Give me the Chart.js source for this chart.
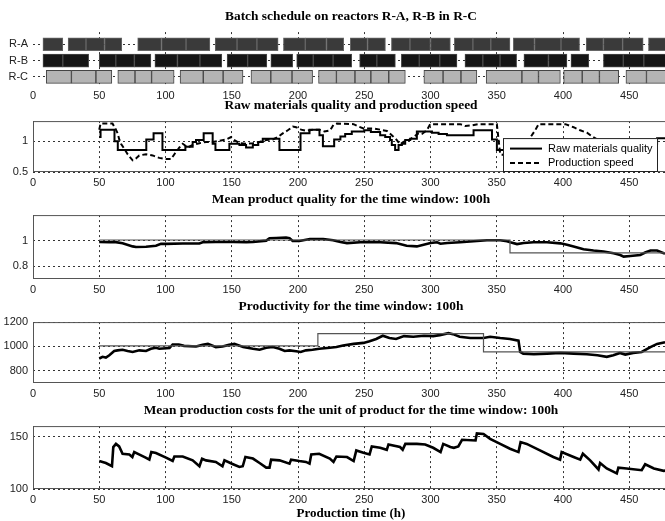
<!DOCTYPE html>
<html>
<head>
<meta charset="utf-8">
<script src="https://cdn.jsdelivr.net/npm/chart.js@4.4.0/dist/chart.umd.min.js"></script>
<style>
  html, body { margin: 0; padding: 0; background: #fff; overflow: hidden; }
  body { width: 665px; height: 521px; position: relative; }
  canvas { position: absolute; left: 0; }
</style>
</head>
<body>
<canvas id="gantt" width="669" height="96" style="top:9px"></canvas>
<canvas id="raw" width="669" height="94" style="top:98px"></canvas>
<canvas id="quality" width="669" height="107" style="top:192px"></canvas>
<canvas id="productivity" width="669" height="104" style="top:299px"></canvas>
<canvas id="costs" width="669" height="118" style="top:403px"></canvas>
<script>
// reactors and batches (start, end in h)
const reactors = ["R-A", "R-B", "R-C"];
const batchesA = [[7.5, 22.5], [26.5, 40], [40, 54], [54, 67], [79, 97], [97, 115.5], [115.5, 133.5],
  [137.5, 154], [154, 169], [169, 185], [189, 205.5], [205.5, 221.5], [221.5, 234.5], [239.5, 252.5],
  [252.5, 266], [270.5, 284.5], [284.5, 300], [300, 315], [318, 332], [332, 345.5], [345.5, 360],
  [362.5, 378.5], [378.5, 398.5], [398.5, 412.5], [417.5, 430.5], [430.5, 445], [445, 460.5], [464.5, 484]];
const batchesB = [[7.5, 22.5], [22.5, 42], [50, 62.5], [62.5, 76.5], [76.5, 89], [92, 109], [109, 126],
  [126, 142.5], [146.5, 162], [162, 176.5], [179.5, 196], [199, 211.5], [211.5, 226.5], [226.5, 240.5],
  [246.5, 259.5], [259.5, 273.5], [278, 291.5], [291.5, 307], [307, 320], [326, 339.5], [339.5, 352.5],
  [352.5, 365], [370.5, 389], [389, 403], [406, 419.5], [430.5, 445.5], [445.5, 461], [461, 484]];
const batchesC = [[10, 29], [29, 47.5], [47.5, 59.5], [64, 77], [77, 89.5], [89.5, 106.5], [111, 128.5],
  [128.5, 143.5], [143.5, 158.5], [164.5, 179.5], [179.5, 195.5], [195.5, 211], [215.5, 229], [229, 243],
  [243, 255], [255, 268.5], [268.5, 281], [295, 309.5], [309.5, 323], [323, 335], [342, 369], [369, 381.5],
  [381.5, 398], [400.5, 414.5], [414.5, 427.5], [427.5, 442], [447.5, 463], [463, 484]];

// [time, value]
const rawQuality = [[50, 1.07], [51, 1.19], [61.5, 1.0], [64, 0.86], [85.5, 1.03], [91, 1.13], [97.7, 0.86],
  [115, 0.91], [120.5, 0.99], [123, 1.02], [128.8, 1.13], [135.6, 0.96], [137.7, 0.86], [148.2, 0.96],
  [155.8, 0.94], [160.8, 0.9], [165.9, 0.94], [170, 0.99], [173.4, 1.04], [186, 0.86], [201.9, 1.13],
  [208.7, 1.19], [216.2, 1.1], [218.8, 0.92], [227.3, 1.03], [232, 1.08], [235.6, 1.12], [240.6, 1.16],
  [250, 1.18], [255, 1.15], [262, 1.1], [265.8, 1.07], [269.5, 1.02], [270.8, 0.94], [273.3, 0.86],
  [275.9, 0.94], [278.4, 0.96], [280.9, 1.02], [284.7, 1.04], [289.7, 1.16], [301.1, 1.14], [306.1, 1.12],
  [312.4, 1.1], [332.5, 1.18], [346.4, 1.03], [350.1, 0.86], [365, 0.9], [380, 0.85], [395, 0.88],
  [410, 0.84], [425, 0.86], [440, 0.83], [455, 0.87], [466, 0.96], [471, 1.05], [480, 1.05]];
const productionSpeed = [[50, 1.19], [51, 1.29], [60, 1.29], [62.6, 1.19], [63.9, 1.13], [65.1, 1.03],
  [66.4, 0.96], [68.9, 0.88], [71.4, 0.79], [75.2, 0.69], [77.7, 0.72], [80.2, 0.77], [85.3, 0.79],
  [90.3, 0.77], [95.3, 0.73], [100.4, 0.71], [104.2, 0.71], [106.7, 0.79], [110.5, 0.9], [113, 0.96],
  [116.8, 0.9], [120.5, 0.94], [125.6, 0.97], [130.6, 0.99], [135.6, 0.99], [140.7, 1.01], [145.7, 1.03],
  [149.5, 1.07], [152, 1.02], [155.8, 0.97], [160.8, 0.96], [165.9, 0.97], [170.9, 0.99], [175.9, 1.02],
  [181, 1.03], [184.8, 1.07], [188.5, 1.13], [192.3, 1.18], [196.1, 1.24], [198.6, 1.23], [202.4, 1.19],
  [206.2, 1.17], [211.2, 1.19], [216.2, 1.19], [220, 1.16], [224.3, 1.18], [226.8, 1.27], [229.3, 1.29],
  [241.9, 1.28], [245.7, 1.24], [249.4, 1.21], [257, 1.21], [262, 1.19], [267.1, 1.17], [270.8, 1.1],
  [274.6, 1.02], [277.1, 0.95], [279.6, 0.99], [283.4, 1.02], [287.2, 1.07], [290.9, 1.13], [293.5, 1.12],
  [297.2, 1.18], [299.8, 1.28], [322.4, 1.28], [326.2, 1.25], [331.3, 1.26], [336.3, 1.28], [350.1, 1.28],
  [351.3, 1.04], [352.6, 0.79], [362, 0.74], [370, 0.86], [375.3, 1.06], [379, 1.18], [381.6, 1.28],
  [401.8, 1.28], [408, 1.23], [413, 1.18], [418.1, 1.14], [421.9, 1.08], [430, 0.98], [445, 0.93], [460, 0.9]];

const qualityTarget = [[50, 1.005], [360, 0.905], [480, 0.905]];
const qualityMean = [[50, 0.99], [57.6, 0.987], [61.3, 0.99], [67.6, 0.98], [75.2, 0.955], [77.7, 0.95],
  [85.3, 0.952], [92.8, 0.96], [96.6, 0.975], [100.4, 0.975], [113, 0.978], [125.6, 0.978], [128, 0.987],
  [138, 0.99], [151, 0.99], [161, 0.987], [166, 0.99], [176, 1.0], [178.5, 1.019], [183.5, 1.021],
  [191, 1.025], [193.6, 1.02], [196, 0.997], [201, 0.997], [209, 1.013], [219, 1.013], [226.5, 1.003],
  [232, 0.99], [237, 0.981], [247, 0.987], [254, 0.989], [262, 0.987], [274, 0.981], [282, 0.96],
  [289.7, 0.955], [294.8, 0.968], [300, 0.981], [305, 0.987], [307.5, 0.976], [312.6, 0.981],
  [322.4, 0.987], [332.5, 0.995], [342.6, 1.003], [352.6, 1.003], [357.7, 0.995], [360.2, 0.987],
  [365.3, 0.973], [370.3, 0.981], [377.8, 0.987], [387.9, 0.987], [398, 0.979], [403, 0.968], [408, 0.955],
  [415.5, 0.933], [423, 0.923], [430.6, 0.915], [438.2, 0.901], [443.2, 0.888], [445.8, 0.875],
  [450.8, 0.88], [458.3, 0.888], [462, 0.907], [466, 0.923], [471, 0.923], [476, 0.901], [480, 0.9]];

const productivityTarget = [[50, 1005], [215, 1105], [340, 955], [480, 955]];
const productivityMean = [[50, 901], [52.5, 915], [55, 909], [57.6, 928], [61.3, 963], [63.8, 968],
  [67.6, 973], [71.4, 963], [75.2, 955], [80.2, 968], [85.3, 963], [89, 981], [92.8, 989], [95.3, 981],
  [103, 987], [105.4, 1016], [110, 1016], [114, 1005], [123, 1000], [128, 1013], [132, 1021], [138, 995],
  [143, 1000], [148, 1013], [152, 1021], [158.6, 995], [166, 981], [171, 973], [176, 989], [181, 995],
  [186, 981], [190, 963], [193.6, 968], [198.6, 960], [202, 955], [206, 968], [211, 973], [216, 981],
  [224, 989], [229, 995], [234, 1008], [242, 1021], [249.4, 1029], [254, 1043], [259, 1061], [264, 1088],
  [269, 1069], [274, 1061], [280, 1085], [287, 1080], [295, 1088], [302, 1085], [307, 1093], [313.6, 1109],
  [317, 1101], [322, 1080], [330, 1069], [340, 1069], [345, 1080], [352.6, 1069], [360, 1061],
  [366.4, 1048], [367.7, 955], [370, 941], [378, 936], [388, 941], [398, 947], [408, 941], [418, 936],
  [426, 928], [433, 915], [438, 928], [443, 947], [447, 933], [453, 947], [459.4, 955], [466, 995],
  [471, 1021], [477, 1035]];

const productionCosts = [[50, 126.7], [52.5, 125.8], [55, 124.8], [59.6, 121.7], [60.6, 140], [62.6, 143],
  [65, 140.6], [67.6, 133.6], [72.7, 133], [75, 130.5], [76.4, 135.2], [80, 133], [85, 129.9], [87.8, 128],
  [89.3, 135.2], [92.8, 134.3], [100.4, 129.9], [105.4, 126.7], [106.7, 131], [113, 131], [120.5, 127.3],
  [125.6, 121.7], [127.6, 128.9], [130.6, 127.3], [138, 125.8], [143, 121.7], [144.5, 127.3], [151, 123.6],
  [155.8, 121], [158.3, 121.7], [160.3, 130.5], [166, 129], [171, 124.8], [176, 120.4], [178.5, 120.4],
  [179.7, 128], [186, 127.3], [193.6, 124.2], [194.8, 128], [201, 126.7], [206, 125.8], [208.7, 124.2],
  [210, 133], [216, 133.6], [224, 129], [226.8, 125.8], [229, 131], [237, 130.5], [242, 126.7],
  [244, 136.8], [249.4, 134.6], [254, 133], [255.7, 140.6], [262, 139.3], [267, 137.4], [268.3, 142.5],
  [277, 140], [279, 137.4], [281, 143], [289.7, 143], [296, 142.5], [302, 139.3], [307.6, 135.2],
  [309.6, 143], [315, 140], [317.6, 139.3], [321, 140.6], [323.8, 146.9], [334, 146.3], [335, 153],
  [340, 152.5], [345, 147.8], [352.6, 143], [360, 138.4], [366.4, 135.2], [368, 144.7], [372.6, 143],
  [382.6, 136.8], [392.7, 130.5], [397.8, 128], [399, 135.2], [408, 130.5], [413, 128], [415, 133.6],
  [420.5, 127.3], [426.8, 118.6], [428, 124.8], [433, 119.6], [440.6, 114.8], [441.8, 120.4], [448, 119.6],
  [459.4, 117.9], [462, 123.6], [468.6, 119.6], [476, 117.3], [480, 118]];

const timeTicks = [0, 50, 100, 150, 200, 250, 300, 350, 400, 450];

const SANS = "'Liberation Sans', Arial, sans-serif";
const SERIF = "'Liberation Serif', 'Times New Roman', serif";

Chart.defaults.font.family = SANS;
Chart.defaults.font.size = 11;
Chart.defaults.color = "#222";
Chart.defaults.animation = false;
Chart.defaults.events = [];
Chart.defaults.plugins.legend.display = false;
Chart.defaults.plugins.tooltip.enabled = false;

const toPoints = (pairs) => pairs.map(([x, y]) => ({ x, y }));
const fixTicks = (values) => (scale) => {
  scale.ticks = values.map((v) => ({ value: v }));
};

// box round the plot area
const frame = {
  id: "frame",
  afterDatasetsDraw(chart) {
    const { ctx, chartArea: a } = chart;
    ctx.save();
    ctx.strokeStyle = "#555";
    ctx.lineWidth = 1;
    ctx.strokeRect(a.left + 0.5, a.top + 0.5, a.right - a.left - 1, a.bottom - a.top - 1);
    ctx.restore();
  },
};

// matlab style legend inside the axes
const boxLegend = {
  id: "boxLegend",
  afterDraw(chart) {
    const { ctx, chartArea: a } = chart;
    const x = 503, y = a.top + 17, w = 154, h = a.bottom - y;
    ctx.save();
    ctx.fillStyle = "#fff";
    ctx.fillRect(x, y, w, h);
    ctx.strokeStyle = "#222";
    ctx.lineWidth = 1;
    ctx.strokeRect(x + 0.5, y + 0.5, w, h - 1);
    ctx.font = "11px " + SANS;
    ctx.textBaseline = "middle";
    chart.data.datasets.forEach((ds, i) => {
      const cy = y + 10.5 + i * 14.4;
      ctx.strokeStyle = ds.borderColor;
      ctx.lineWidth = ds.borderWidth;
      ctx.setLineDash(ds.borderDash || []);
      ctx.beginPath();
      ctx.moveTo(x + 7, cy);
      ctx.lineTo(x + 39, cy);
      ctx.stroke();
      ctx.setLineDash([]);
      ctx.fillStyle = "#000";
      ctx.fillText(ds.label, x + 45, cy);
    });
    ctx.restore();
  },
};

const titleOpts = (text) => ({
  display: true,
  text,
  fullSize: false,
  color: "#000",
  font: { family: SERIF, size: 13.4, weight: "bold", lineHeight: 1.2 },
  padding: { top: 0, bottom: 7 },
});

const xScale = (withTitle, hideZero) => ({
  type: "linear",
  min: 0,
  max: 480,
  offset: false,
  afterBuildTicks: fixTicks(timeTicks),
  afterFit: (s) => { s.height = withTitle ? 32 : 20; },
  ticks: { padding: 4, maxRotation: 0, autoSkip: false, callback: (v) => String(v) },
  grid: {
    color: (c) => (hideZero && c.tick && c.tick.value === 0 ? "rgba(0,0,0,0)" : "#333"),
    drawTicks: false,
    offset: false,
  },
  border: { display: false, dash: [2, 3] },
  title: {
    display: withTitle,
    text: "Production time (h)",
    color: "#000",
    font: { family: SERIF, size: 13, weight: "bold", lineHeight: 1.2 },
    padding: { top: 0, bottom: 0 },
  },
});

const yScale = (min, max, values, labels, reverse) => ({
  type: "linear",
  min,
  max,
  reverse: !!reverse,
  offset: false,
  afterBuildTicks: fixTicks(values),
  afterFit: (s) => { s.width = 33; },
  ticks: { padding: 5, callback: (v) => (labels ? labels[values.indexOf(v)] : String(v)) },
  grid: { color: "#333", drawTicks: false, offset: false },
  border: { display: false, dash: [2, 3] },
});

const thick = (label, pairs) => ({
  label,
  data: toPoints(pairs),
  borderColor: "#000",
  borderWidth: 2.6,
  pointRadius: 0,
});
const thin = (label, pairs) => ({
  label,
  data: toPoints(pairs),
  borderColor: "#555",
  borderWidth: 1.2,
  pointRadius: 0,
  stepped: true,
});

// batch schedule
new Chart(document.getElementById("gantt"), {
  type: "bar",
  data: {
    datasets: [
      { label: reactors[0], data: batchesA.map((b) => ({ x: b, y: 1 })), backgroundColor: "#3a3a3a", borderColor: "#666" },
      { label: reactors[1], data: batchesB.map((b) => ({ x: b, y: 2 })), backgroundColor: "#151515", borderColor: "#4a4a4a" },
      { label: reactors[2], data: batchesC.map((b) => ({ x: b, y: 3 })), backgroundColor: "#b4b4b4", borderColor: "#444" },
    ],
  },
  options: {
    responsive: false,
    indexAxis: "y",
    layout: { padding: 0 },
    datasets: {
      bar: { grouped: false, categoryPercentage: 1, barPercentage: 1, maxBarThickness: 13, borderWidth: 1, borderSkipped: false },
    },
    scales: {
      x: xScale(false, true),
      y: yScale(0.25, 3.5, [1, 2, 3], reactors, true),
    },
    plugins: { title: titleOpts("Batch schedule on reactors R-A, R-B in R-C") },
  },
});

new Chart(document.getElementById("raw"), {
  type: "line",
  data: {
    datasets: [
      { ...thick("Raw materials quality", rawQuality), borderWidth: 2, stepped: true },
      { ...thick("Production speed", productionSpeed), borderWidth: 2, borderDash: [5, 3] },
    ],
  },
  options: {
    responsive: false,
    layout: { padding: 0 },
    scales: { x: xScale(false), y: yScale(0.5, 1.33, [0.5, 1]) },
    plugins: { title: titleOpts("Raw materials quality and production speed") },
  },
  plugins: [frame, boxLegend],
});

new Chart(document.getElementById("quality"), {
  type: "line",
  data: { datasets: [thin("Target", qualityTarget), thick("Mean quality", qualityMean)] },
  options: {
    responsive: false,
    layout: { padding: 0 },
    scales: { x: xScale(false), y: yScale(0.7, 1.2, [0.8, 1]) },
    plugins: { title: titleOpts("Mean product quality for the time window: 100h") },
  },
  plugins: [frame],
});

new Chart(document.getElementById("productivity"), {
  type: "line",
  data: { datasets: [thin("Target", productivityTarget), thick("Productivity", productivityMean)] },
  options: {
    responsive: false,
    layout: { padding: 0 },
    scales: { x: xScale(false), y: yScale(700, 1200, [800, 1000, 1200]) },
    plugins: { title: titleOpts("Productivity for the time window: 100h") },
  },
  plugins: [frame],
});

new Chart(document.getElementById("costs"), {
  type: "line",
  data: { datasets: [thick("Mean production costs", productionCosts)] },
  options: {
    responsive: false,
    layout: { padding: 0 },
    scales: { x: xScale(true), y: yScale(100, 160, [100, 150]) },
    plugins: { title: titleOpts("Mean production costs for the unit of product for the time window: 100h") },
  },
  plugins: [frame],
});
</script>
</body>
</html>
